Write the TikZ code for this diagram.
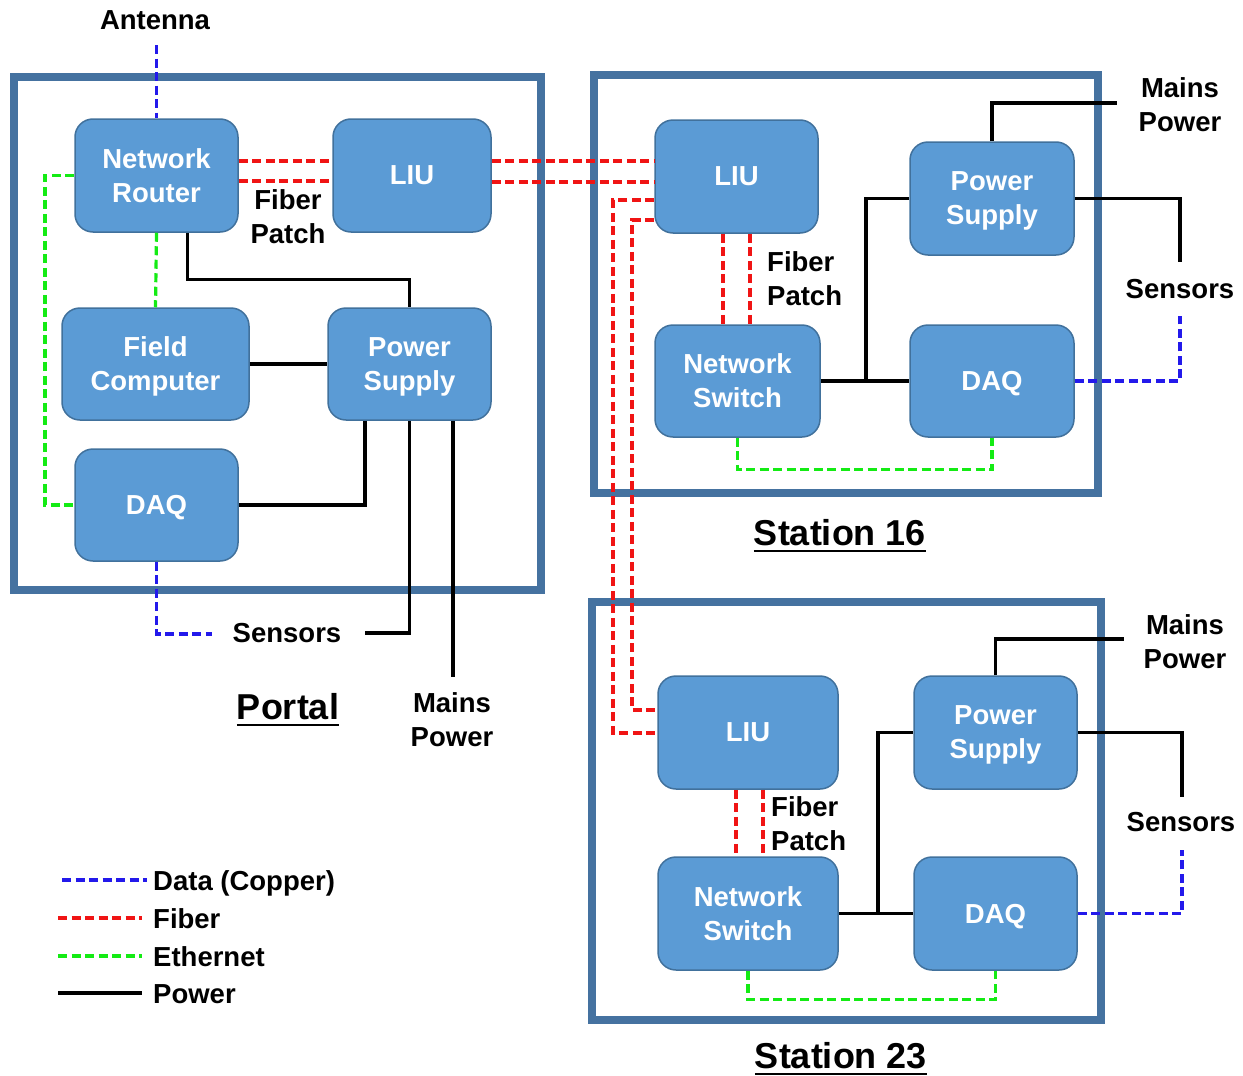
\documentclass[tikz,border=0pt]{standalone}
\usepackage{fontspec}
\setmainfont{Liberation Sans}
\usetikzlibrary{calc}
\definecolor{boxfill}{RGB}{91,155,213}
\definecolor{boxedge}{RGB}{65,113,156}
\definecolor{framec}{RGB}{69,114,160}
\definecolor{datac}{RGB}{35,25,235}
\definecolor{fiberc}{RGB}{240,20,20}
\definecolor{ethc}{RGB}{20,235,20}
\begin{document}
\begin{tikzpicture}[x=1pt,y=-1pt,
  unit/.style={draw=boxedge, line width=1.5pt, fill=boxfill, rounded corners=18pt,
    text=white, font=\bfseries\fontsize{27.5}{34}\selectfont, align=center,
    inner sep=0pt, text depth=0pt},
  frame/.style={draw=framec, line width=8pt},
  lbl/.style={font=\bfseries\fontsize{27.5}{34}\selectfont, inner sep=0pt},
  ttl/.style={font=\bfseries\fontsize{36}{40}\selectfont, inner sep=0pt},
  datal/.style={draw=datac, line width=3.2pt, dash pattern=on 9pt off 4.5pt},
  fiberl/.style={draw=fiberc, line width=3.2pt, dash pattern=on 9pt off 4.5pt},
  ethl/.style={draw=ethc, line width=3.2pt, dash pattern=on 9pt off 4.5pt},
  powl/.style={draw=black, line width=3.2pt},
]
\useasboundingbox (0,0) rectangle (1243,1076);

% ---------- enclosures ----------
\draw[frame] (14,77) rectangle (541,590);
\draw[frame] (594,75) rectangle (1098,493);
\draw[frame] (592,602) rectangle (1101,1020);

% ---------- Portal ----------
\node[unit, minimum width=163pt, minimum height=113pt] (prouter) at (156.5,175.5) {Network\\Router};
\node[unit, minimum width=158pt, minimum height=113pt] (pliu) at (412,175.5) {LIU};
\node[unit, minimum width=187pt, minimum height=112pt] (pfc) at (155.5,364) {Field\\Computer};
\node[unit, minimum width=163pt, minimum height=112pt] (pps) at (409.5,364) {Power\\Supply};
\node[unit, minimum width=163pt, minimum height=112pt] (pdaq) at (156.5,505) {DAQ};

\node[lbl] (antenna) at (155,20) {Antenna};
\coordinate (antend) at (156.5,45);
\node[lbl, align=center] (pfiber) at (288,217) {Fiber\\Patch};
\node[lbl] (psens) at (287,633) {Sensors};
\coordinate (psensend) at (365,633);
\coordinate (pdataend) at (212,634);
\node[lbl, align=center] (pmains) at (452,720) {Mains\\Power};
\coordinate (pmainsend) at (453,677);
\node[ttl] (ptitle) at (288,707) {Portal};
\draw[line width=2.4pt] ([yshift=-5pt]ptitle.base west) -- ([yshift=-5pt]ptitle.base east);

\draw[datal] (antend) -- (prouter.north);
\draw[ethl] (prouter.west) -- (45,175.5) |- (pdaq.west);
\draw[ethl] (prouter.south) -- (pfc.north);
\draw[fiberl] (prouter.east |- 0,161) -- (pliu.west |- 0,161);
\draw[fiberl] (prouter.east |- 0,181) -- (pliu.west |- 0,181);
\draw[powl] ([xshift=31pt]prouter.south) -- ++(0,47) -| (pps.north);
\draw[powl] (pfc.east) -- (pps.west);
\draw[powl] ([xshift=-44.5pt]pps.south) |- (pdaq.east);
\draw[powl] (pps.south) |- (psensend);
\draw[powl] ([xshift=43.5pt]pps.south) -- (pmainsend);
\draw[datal] (pdaq.south) |- (pdataend);

% ---------- Station 16 ----------
\node[unit, minimum width=163pt, minimum height=113pt] (aliu) at (736.5,176.5) {LIU};
\node[unit, minimum width=164pt, minimum height=113pt] (aps) at (992,198.5) {Power\\Supply};
\node[unit, minimum width=165pt, minimum height=112pt] (ans) at (737.5,381) {Network\\Switch};
\node[unit, minimum width=164pt, minimum height=112pt] (adaq) at (992,381) {DAQ};

\node[lbl, align=left, anchor=west] (afiber) at (767,279) {Fiber\\Patch};
\node[lbl, align=center] (amains) at (1180,105) {Mains\\Power};
\coordinate (amainsend) at (1117,103);
\node[lbl] (asens) at (1180,289) {Sensors};
\coordinate (asensend) at (1180,262);
\coordinate (adataend) at (1180,316);
\node[ttl] (atitle) at (840,533) {Station 16};
\draw[line width=2.4pt] ([yshift=-5pt]atitle.base west) -- ([yshift=-5pt]atitle.base east);

\draw[fiberl] (pliu.east |- 0,161) -- (aliu.west |- 0,161);
\draw[fiberl] (pliu.east |- 0,182) -- (aliu.west |- 0,182);
\draw[fiberl] (aliu.south -| 723,0) -- (ans.north -| 723,0);
\draw[fiberl] (aliu.south -| 750,0) -- (ans.north -| 750,0);
\draw[powl] (ans.east) -- (adaq.west);
\draw[powl] (ans.east -| 866,0) |- (aps.west);
\draw[powl] (aps.north) |- (amainsend);
\draw[powl] (aps.east) -| (asensend);
\draw[datal] (adaq.east) -| (adataend);
\draw[ethl] (ans.south) -- ++(0,32) -| (adaq.south);

% ---------- Station 23 ----------
\node[unit, minimum width=180pt, minimum height=113pt] (bliu) at (748,732.5) {LIU};
\node[unit, minimum width=163pt, minimum height=113pt] (bps) at (995.5,732.5) {Power\\Supply};
\node[unit, minimum width=180pt, minimum height=113pt] (bns) at (748,913.5) {Network\\Switch};
\node[unit, minimum width=163pt, minimum height=113pt] (bdaq) at (995.5,913.5) {DAQ};

\node[lbl, align=left, anchor=west] (bfiber) at (771,824) {Fiber\\Patch};
\node[lbl, align=center] (bmains) at (1185,642) {Mains\\Power};
\coordinate (bmainsend) at (1124,639);
\node[lbl] (bsens) at (1181,822) {Sensors};
\coordinate (bsensend) at (1182,797);
\coordinate (bdataend) at (1182,850);
\node[ttl] (btitle) at (841,1056) {Station 23};
\draw[line width=2.4pt] ([yshift=-5pt]btitle.base west) -- ([yshift=-5pt]btitle.base east);

\draw[fiberl] (aliu.west |- 0,200) -- (613,200) -- (613,733) -- (bliu.west |- 0,733);
\draw[fiberl] (aliu.west |- 0,220) -- (632,220) -- (632,710) -- (bliu.west |- 0,710);
\draw[fiberl] (bliu.south -| 736,0) -- (bns.north -| 736,0);
\draw[fiberl] (bliu.south -| 763,0) -- (bns.north -| 763,0);
\draw[powl] (bns.east) -- (bdaq.west);
\draw[powl] (bns.east -| 878,0) |- (bps.west);
\draw[powl] (bps.north) |- (bmainsend);
\draw[powl] (bps.east) -| (bsensend);
\draw[datal] (bdaq.east) -| (bdataend);
\draw[ethl] (bns.south) -- ++(0,29) -| (bdaq.south);

% ---------- legend ----------
\node[lbl, anchor=base west] (ldata) at (153,890) {Data (Copper)};
\node[lbl, anchor=base west] (lfiber) at (153,928) {Fiber};
\node[lbl, anchor=base west] (leth) at (153,966) {Ethernet};
\node[lbl, anchor=base west] (lpow) at (153,1003) {Power};
\coordinate (ld0) at (62,880);
\coordinate (lf0) at (58,918);
\coordinate (le0) at (58,956);
\coordinate (lp0) at (58,993);
\draw[datal] (ld0) -- (147,880);
\draw[fiberl] (lf0) -- (142,918);
\draw[ethl] (le0) -- (142,956);
\draw[powl] (lp0) -- (142,993);
\end{tikzpicture}
\end{document}
